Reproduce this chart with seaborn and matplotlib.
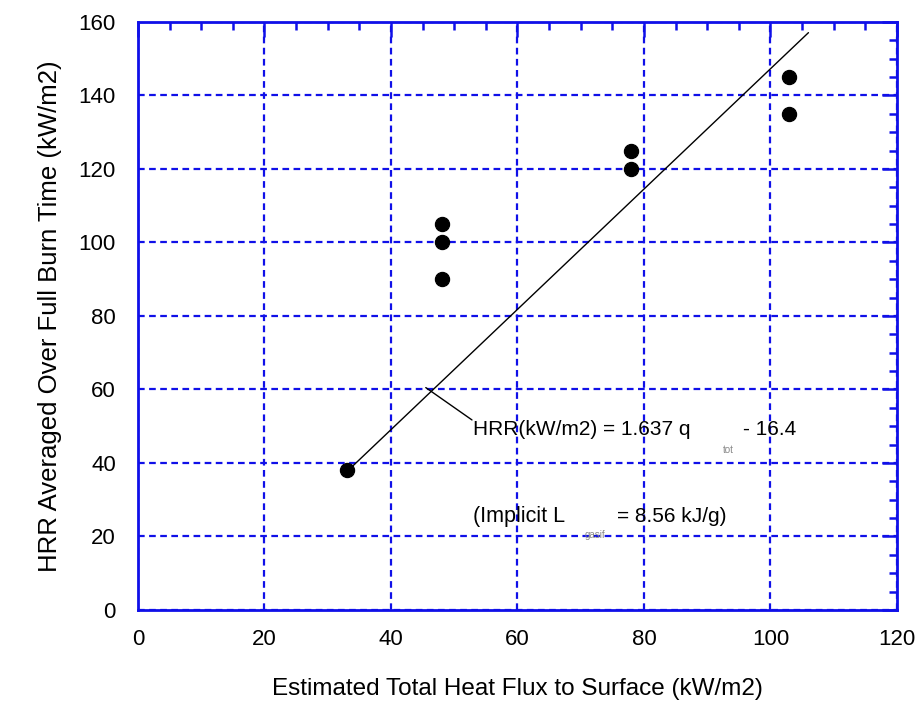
import numpy as np
import pandas as pd
import seaborn as sns
import matplotlib.pyplot as plt
from matplotlib.ticker import MultipleLocator

sns.set_style("white")
plt.rcParams['font.family'] = ['Liberation Sans', 'DejaVu Sans']
plt.rcParams['text.color'] = 'black'
plt.rcParams['axes.labelcolor'] = 'black'

# measured points
flux = [33, 48, 48, 48, 78, 78, 103, 103]
hrr = [38, 105, 100, 90, 125, 120, 145, 135]

# fitted line end points: HRR = 1.637 q_tot - 16.4
fit_x = [33, 106]
fit_y = [37.6, 157.1]

blue = '#1010e8'

df = pd.DataFrame({'flux': flux, 'hrr': hrr})
fit = pd.DataFrame({'x': fit_x, 'y': fit_y})

fig = plt.figure(figsize=(9.2, 7.1), dpi=100)
ax = fig.add_axes([0.15, 0.141, 0.825, 0.828])

sns.lineplot(data=fit, x='x', y='y', color='black', lw=1.0, ax=ax, zorder=3)
sns.scatterplot(data=df, x='flux', y='hrr', color='black', s=105, edgecolor='black', ax=ax, zorder=4)

ax.set_xlim(0, 120)
ax.set_ylim(0, 160)
ax.xaxis.set_major_locator(MultipleLocator(20))
ax.yaxis.set_major_locator(MultipleLocator(20))
ax.xaxis.set_minor_locator(MultipleLocator(5))
ax.yaxis.set_minor_locator(MultipleLocator(5))
ax.grid(True, which='major', color=blue, linestyle=(0, (3, 2)), lw=1.6)
ax.tick_params(which='both', direction='in', top=True, right=True, color=blue,
               labelcolor='black', width=1.8)
ax.tick_params(which='major', length=11, labelsize=16)
ax.tick_params(axis='x', which='major', pad=14)
ax.tick_params(axis='y', which='major', pad=16)
ax.tick_params(which='minor', length=6)
for s in ax.spines.values():
    s.set_color(blue)
    s.set_linewidth(2.0)

ax.set_xlabel('Estimated Total Heat Flux to Surface (kW/m2)', fontsize=17.5, labelpad=20)
ax.set_ylabel('HRR Averaged Over Full Burn Time (kW/m2)', fontsize=18.5, labelpad=12)

# leader line and equation labels
ax.plot([45.5, 52.8], [60.5, 51.7], color='black', lw=1.0, zorder=3)
ax.text(53, 49, 'HRR(kW/m2) = 1.637 q', fontsize=15, va='center', ha='left')
ax.text(93.3, 43.5, 'tot', fontsize=7, color='#888888', va='center', ha='center')
ax.text(95.7, 49, '- 16.4', fontsize=15, va='center', ha='left')
ax.text(53, 25.3, '(Implicit L', fontsize=15.5, va='center', ha='left')
ax.text(72.3, 20.4, 'gasif', fontsize=7, color='#888888', va='center', ha='center')
ax.text(75.7, 25.3, '= 8.56 kJ/g)', fontsize=15, va='center', ha='left')

fig.savefig('out.png', dpi=100)
